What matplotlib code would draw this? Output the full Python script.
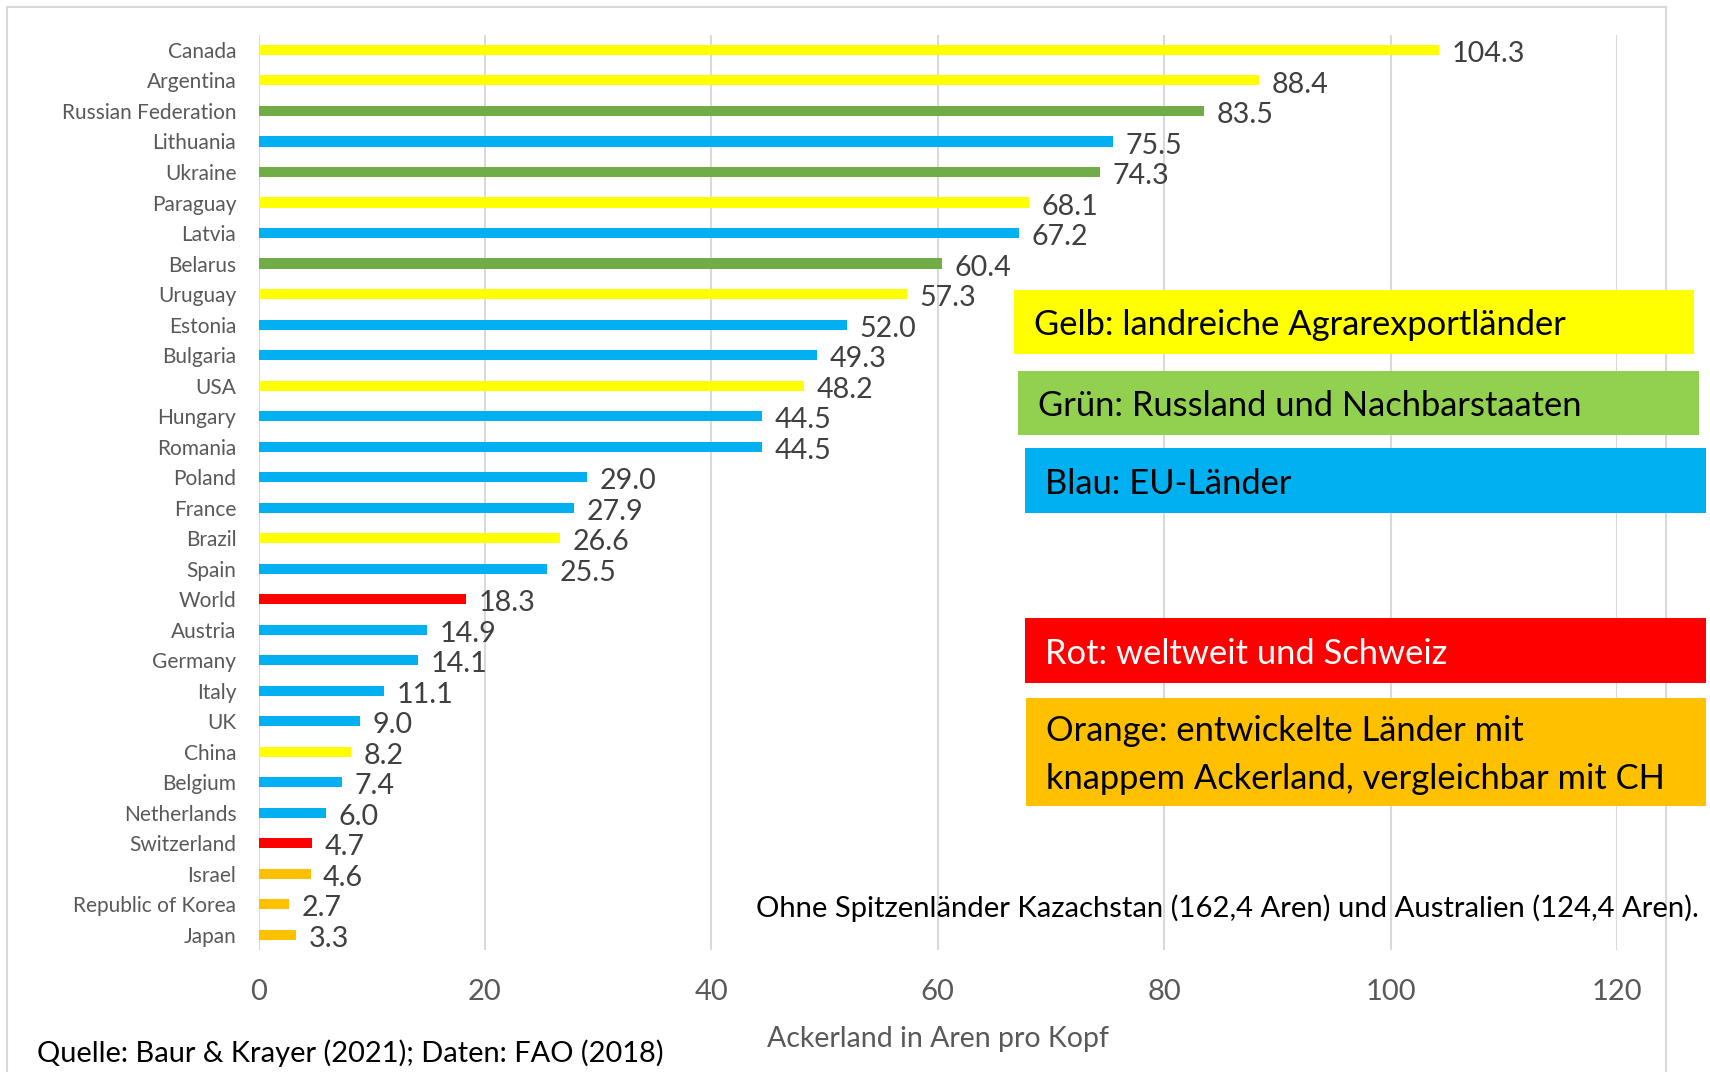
import matplotlib
matplotlib.use('Agg')
import matplotlib.pyplot as plt
from matplotlib.patches import Rectangle
from matplotlib.lines import Line2D

plt.rcParams['font.family'] = ['Lato', 'DejaVu Sans']

countries = ['Canada', 'Argentina', 'Russian Federation', 'Lithuania', 'Ukraine',
             'Paraguay', 'Latvia', 'Belarus', 'Uruguay', 'Estonia', 'Bulgaria', 'USA',
             'Hungary', 'Romania', 'Poland', 'France', 'Brazil', 'Spain', 'World',
             'Austria', 'Germany', 'Italy', 'UK', 'China', 'Belgium', 'Netherlands',
             'Switzerland', 'Israel', 'Republic of Korea', 'Japan']
values = [104.3, 88.4, 83.5, 75.5, 74.3, 68.1, 67.2, 60.4, 57.3, 52.0, 49.3, 48.2,
          44.5, 44.5, 29.0, 27.9, 26.6, 25.5, 18.3, 14.9, 14.1, 11.1, 9.0, 8.2, 7.4,
          6.0, 4.7, 4.6, 2.7, 3.3]
groups = ['Y', 'Y', 'G', 'B', 'G', 'Y', 'B', 'G', 'Y', 'B', 'B', 'Y', 'B', 'B', 'B',
          'B', 'Y', 'B', 'R', 'B', 'B', 'B', 'B', 'Y', 'B', 'B', 'R', 'O', 'O', 'O']
group_colors = {'Y': '#FFFF00', 'G': '#70AD47', 'B': '#00B0F0', 'R': '#FF0000', 'O': '#FFC000'}
xticks = [0, 20, 40, 60, 80, 100, 120]
xlabel = 'Ackerland in Aren pro Kopf'
legend_items = [
    ('Gelb: landreiche Agrarexportländer', '#FFFF00', 'black'),
    ('Grün: Russland und Nachbarstaaten', '#92D050', 'black'),
    ('Blau: EU-Länder', '#00B0F0', 'black'),
    ('Rot: weltweit und Schweiz', '#FF0000', 'white'),
    ('Orange: entwickelte Länder mit\nknappem Ackerland, vergleichbar mit CH', '#FFC000', 'black'),
]
note = 'Ohne Spitzenländer Kazachstan (162,4 Aren) und Australien (124,4 Aren).'
source = 'Quelle: Baur & Krayer (2021); Daten: FAO (2018)'

W, H = 1710, 1072
fig = plt.figure(figsize=(W / 100, H / 100), dpi=100)


def fx(x):
    return x / W


def fy(y):
    return 1 - y / H


# chart border
for xs, ys in [([7, 7], [7, H]), ([7, 1666], [7, 7]), ([1666, 1666], [7, H])]:
    fig.add_artist(Line2D([fx(v) for v in xs], [fy(v) for v in ys],
                          color='#D9D9D9', lw=1.5, transform=fig.transFigure))

ax = fig.add_axes([fx(258.5), fy(950), fx(1617) - fx(258.5), fy(34.7) - fy(950)])
ypos = list(range(len(countries)))
ax.barh(ypos, values, height=0.33, color=[group_colors[g] for g in groups], zorder=2)
ax.set_ylim(len(countries) - 0.5, -0.5)
ax.set_xlim(0, 120)
ax.set_xticks(xticks)
ax.set_yticks(ypos)
ax.set_yticklabels(countries)
ax.set_axisbelow(True)
ax.grid(axis='x', color='#D9D9D9', lw=1.5, zorder=0)
for s in ax.spines.values():
    s.set_visible(False)
ax.tick_params(axis='y', length=0, pad=16, labelsize=15, labelcolor='#595959')
ax.tick_params(axis='x', length=0, pad=21, labelsize=21, labelcolor='#595959')
for i, v in enumerate(values):
    ax.annotate(f'{v:.1f}', (v, i), xytext=(9, -3), textcoords='offset points',
                va='center', ha='left', fontsize=20.6, color='#404040')

fig.text(fx(938), fy(1039), xlabel, ha='center', va='center', fontsize=20.5, color='#595959')

# legend boxes
boxes = [(1014, 290, 1694, 354), (1018, 371, 1699, 435), (1025, 448, 1706, 513),
         (1025, 618, 1706, 683), (1026, 698, 1706, 806)]
for (label, fc, tc), (x0, y0, x1, y1) in zip(legend_items, boxes):
    fig.add_artist(Rectangle((fx(x0), fy(y1)), fx(x1) - fx(x0), fy(y0) - fy(y1),
                             transform=fig.transFigure, facecolor=fc, edgecolor='none', zorder=5))
    fig.text(fx(x0 + 20), fy((y0 + y1) / 2 + 3), label, ha='left', va='center', fontsize=24.8,
             color=tc, zorder=6, linespacing=1.58)

fig.text(fx(1699), fy(908), note, ha='right', va='center', fontsize=21.1, color='black')
fig.text(fx(37), fy(1053), source, ha='left', va='center', fontsize=20.9, color='black')

fig.savefig('out.png', dpi=100)
